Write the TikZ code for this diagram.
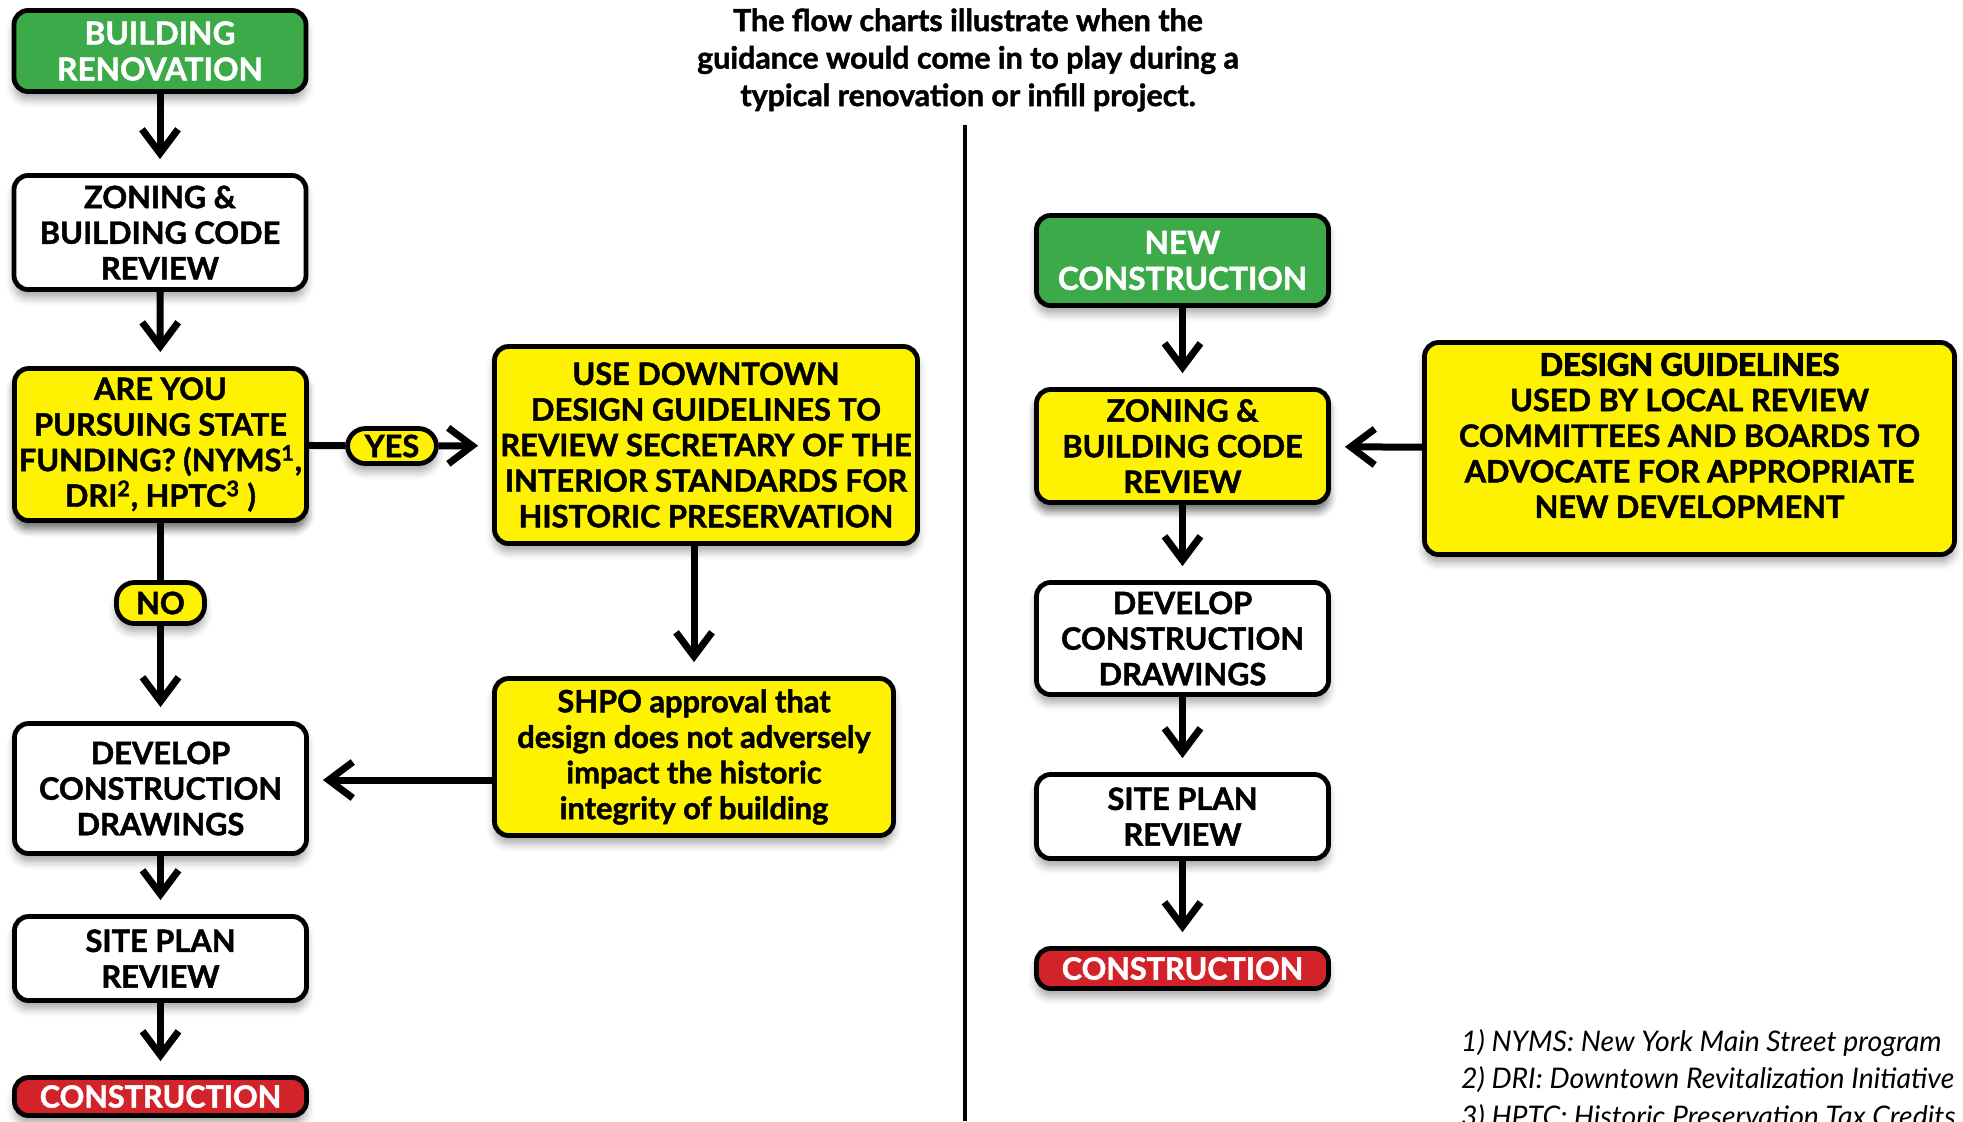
\documentclass[tikz,border=0pt]{standalone}
\usepackage{fontspec}
\setmainfont{Lato}[BoldFeatures={FakeBold=1.5}]
\newfontfamily\heavyfont{Lato}[BoldFeatures={FakeBold=3.5}]
\usetikzlibrary{arrows.meta, shadows.blur}
\definecolor{startgreen}{HTML}{3DAA4A}
\definecolor{askyellow}{HTML}{FFF200}
\definecolor{endred}{HTML}{D2232A}
\tikzset{>={Straight Barb[length=12pt,width=18pt]}}
\tikzset{
  box/.style={draw=black, line width=2.4pt, rounded corners=7pt, align=center,
    inner sep=0pt, text=black, font=\bfseries\fontsize{15.4}{17.8}\selectfont,
    blur shadow={shadow xshift=0pt, shadow yshift=-4pt, shadow blur radius=4pt, shadow opacity=35}},
  colbox/.style={box, minimum width=146pt},
  plainbox/.style={colbox, fill=white},
  askbox/.style={box, fill=askyellow},
  startbox/.style={colbox, fill=startgreen, text=white, font=\bfseries\fontsize{15.8}{18}\selectfont},
  endbox/.style={colbox, fill=endred, text=white, font=\bfseries\fontsize{15.3}{18}\selectfont},
  answer/.style={box, fill=askyellow, rounded corners=9pt},
  flow/.style={->, line width=3.5pt, shorten >=7pt},
  link/.style={line width=3.5pt},
}

\begin{document}
\begin{tikzpicture}[x=0.5pt, y=-0.5pt]
\useasboundingbox (0,0) rectangle (1963,1121);

% renovation chart
\node[startbox, minimum height=40.5pt] (renov) at (160,51) {BUILDING\\RENOVATION};
\node[plainbox, minimum height=57pt] (zoneL) at (160,232.5) {ZONING \&\\BUILDING CODE\\REVIEW};
\node[askbox, colbox, minimum height=76pt] (fundq) at (160.5,444.5)
  {ARE YOU\\PURSUING STATE\\FUNDING? (NYMS\textsuperscript{1},\\DRI\textsuperscript{2}, HPTC\textsuperscript{3} )};
\node[answer, minimum width=44.5pt, minimum height=17.5pt] (yes) at (392,446) {YES};
\node[answer, minimum width=44pt, minimum height=20.5pt] (no) at (160.5,603) {NO};
\node[askbox, minimum width=211.5pt, minimum height=98.5pt] (sectstd) at (706,445)
  {USE DOWNTOWN\\DESIGN GUIDELINES TO\\REVIEW SECRETARY OF THE\\INTERIOR STANDARDS FOR\\HISTORIC PRESERVATION};
\node[askbox, minimum width=199.5pt, minimum height=78.5pt] (shpo) at (694,757)
  {SHPO approval that\\design does not adversely\\impact the historic\\integrity of building};
\node[plainbox, minimum height=65pt] (devL) at (160.5,788.5) {DEVELOP\\CONSTRUCTION\\DRAWINGS};
\node[plainbox, minimum height=42pt] (siteL) at (160.5,958.5) {SITE PLAN\\REVIEW};
\node[endbox, minimum height=19pt] (consL) at (160.5,1096.5) {CONSTRUCTION};

\draw[flow] (renov) -- (zoneL);
\draw[flow] (zoneL) -- (fundq);
\draw[link] (fundq) -- (yes);
\draw[flow] (yes) -- (sectstd);
\draw[link] (fundq) -- (no);
\draw[flow] (no) -- (devL);
\draw[flow] (shpo.north |- sectstd.south) -- (shpo.north);
\draw[flow] ([yshift=-11.5pt]shpo.west) coordinate (shpoout) -- (devL.east |- shpoout);
\draw[flow] (devL) -- (siteL);
\draw[flow] (siteL) -- (consL);

% divider and note
\draw[line width=2pt] (965,125) -- (965,1121);
\node[align=center, font=\bfseries\fontsize{15.2}{18.75}\selectfont] (note) at (968,60)
  {The flow charts illustrate when the\\guidance would come in to play during a\\typical renovation or infill project.};

% new construction chart
\node[startbox, minimum height=45pt] (newcon) at (1182.5,260.5) {NEW\\CONSTRUCTION};
\node[askbox, colbox, minimum height=56.5pt] (zoneR) at (1182.5,446) {ZONING \&\\BUILDING CODE\\REVIEW};
\node[askbox, minimum width=265pt, minimum height=106pt, text depth=13pt] (guide) at (1689.5,448.5)
  {{\heavyfont\bfseries DESIGN GUIDELINES}\\USED BY LOCAL REVIEW\\COMMITTEES AND BOARDS TO\\ADVOCATE FOR APPROPRIATE\\NEW DEVELOPMENT};
\node[plainbox, minimum height=56pt] (devR) at (1182.5,638.5) {DEVELOP\\CONSTRUCTION\\DRAWINGS};
\node[plainbox, minimum height=42pt] (siteR) at (1182.5,816.5) {SITE PLAN\\REVIEW};
\node[endbox, minimum height=20pt] (consR) at (1182.5,968.5) {CONSTRUCTION};

\draw[flow] (newcon) -- (zoneR);
\draw[flow] (guide) -- (zoneR);
\draw[flow] (zoneR) -- (devR);
\draw[flow] (devR) -- (siteR);
\draw[flow] (siteR) -- (consR);

% footnotes
\node[anchor=base west, align=left, font=\itshape\fontsize{14.2}{18.75}\selectfont] (refs) at (1454,1126)
  {1) NYMS: New York Main Street program\\2) DRI: Downtown Revitalization Initiative\\3) HPTC: Historic Preservation Tax Credits};
\end{tikzpicture}
\end{document}
